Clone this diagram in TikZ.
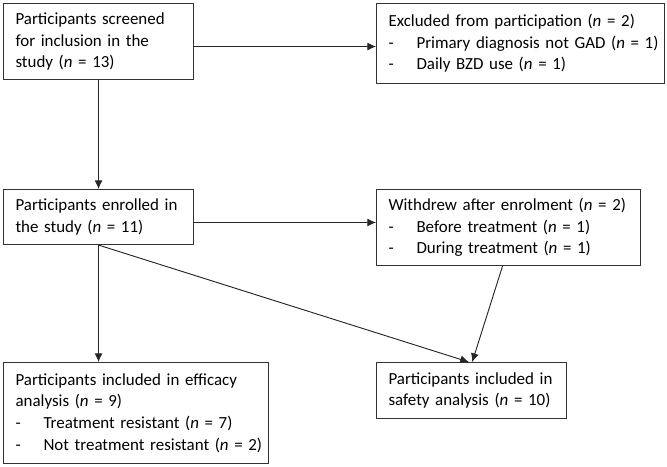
\documentclass[tikz,border=0pt]{standalone}
\usepackage{fontspec}
\setmainfont{Carlito}
\usetikzlibrary{arrows.meta}
\newcommand{\subline}[1]{\mbox{\makebox[21pt][l]{-}#1}}

\begin{document}
\begin{tikzpicture}[x=0.75pt, y=-0.75pt,
  box/.style={draw=black!80, line width=0.8pt, anchor=north west, align=left,
    inner xsep=9pt, inner ysep=0pt, font=\fontsize{12.7}{16.2}\selectfont},
  link/.style={draw=black!85, line width=0.7pt, -{Latex[length=6.5pt,width=6pt]}}]
  \useasboundingbox (0,0) rectangle (667,467);
  % Screening
  \node[box, text width=124.5pt, minimum height=57pt] (screened) at (3,3)
    {Participants screened\\for inclusion in the\\study (\textit{n} = 13)};
  \node[box, text width=198pt, minimum height=60pt] (excluded) at (376,3)
    {Excluded from participation (\textit{n} = 2)\\
     \subline{Primary diagnosis not GAD (\textit{n} = 1)}\\
     \subline{Daily BZD use (\textit{n} = 1)}};
  % Enrolment
  \node[box, text width=124.5pt, minimum height=41.25pt] (enrolled) at (3,189)
    {Participants enrolled in\\the study (\textit{n} = 11)};
  \node[box, text width=180pt, minimum height=57pt] (withdrew) at (376,189)
    {Withdrew after enrolment (\textit{n} = 2)\\
     \subline{Before treatment (\textit{n} = 1)}\\
     \subline{During treatment (\textit{n} = 1)}};
  % Analysis
  \node[box, text width=180.75pt, minimum height=75.75pt] (efficacy) at (3,362)
    {Participants included in efficacy\\analysis (\textit{n} = 9)\\
     \subline{Treatment resistant (\textit{n} = 7)}\\
     \subline{Not treatment resistant (\textit{n} = 2)}};
  \node[box, text width=124.5pt, minimum height=42pt] (safety) at (376,362)
    {Participants included in\\safety analysis (\textit{n} = 10)};
  % Connectors
  \coordinate (exout) at ([yshift=-3.75pt]screened.east);
  \coordinate (wdout) at ([yshift=-4.1pt]enrolled.east);
  \draw[link] (exout) -- (exout -| excluded.west);
  \draw[link] (screened.south) -- (enrolled.north);
  \draw[link] (wdout) -- (wdout -| withdrew.west);
  \draw[link] (enrolled.south) -- (enrolled.south |- efficacy.north);
  \draw[link] (enrolled.south) -- ([xshift=-2pt]safety.north);
  \draw[link] ([xshift=-4.5pt]withdrew.south) -- ([xshift=0.5pt]safety.north);
\end{tikzpicture}
\end{document}
